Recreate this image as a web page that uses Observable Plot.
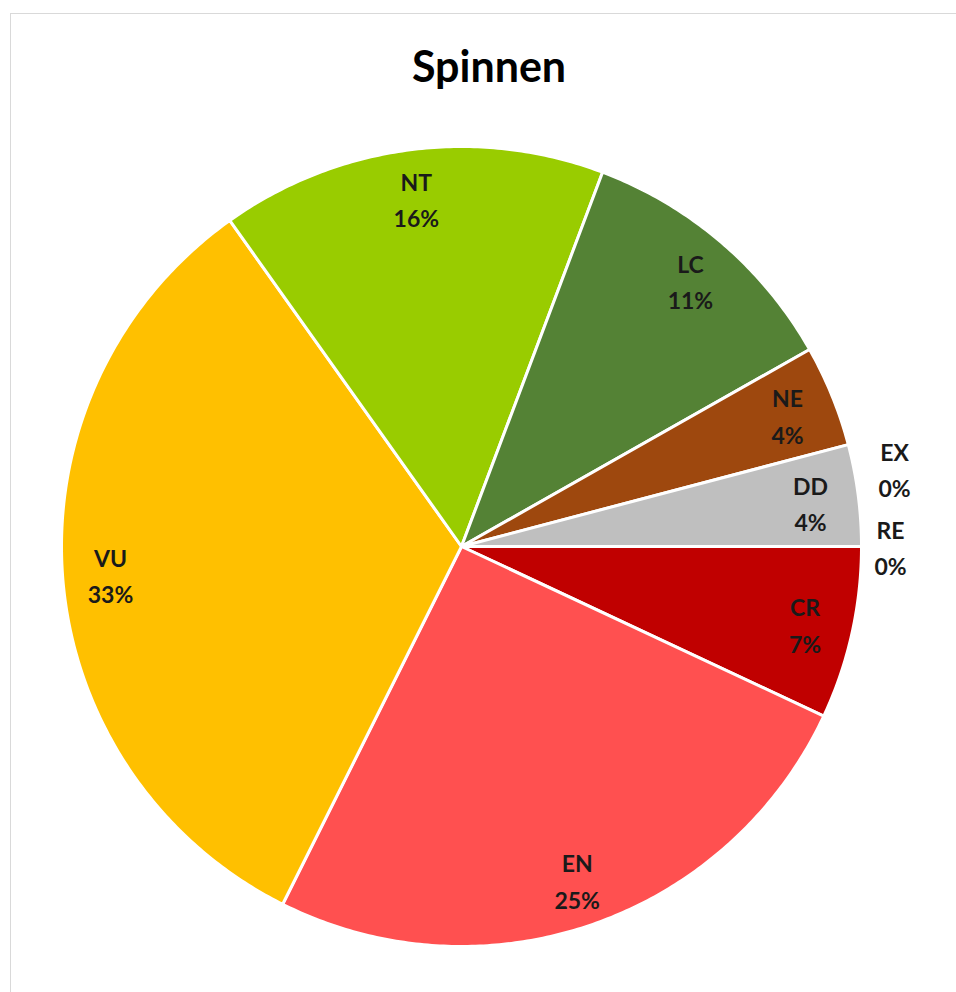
<!DOCTYPE html>
<html>
<head>
<meta charset="utf-8">
<script src="https://cdn.jsdelivr.net/npm/d3@7"></script>
<script src="https://cdn.jsdelivr.net/npm/@observablehq/plot@0.6"></script>
<style>
  html, body { margin: 0; padding: 0; background: #fff; }
  #wrap { position: relative; width: 956px; height: 992px; overflow: hidden; }
  #frame { position: absolute; left: 10px; top: 13px; width: 980px; height: 1000px; border: 1px solid #d9d9d9; box-sizing: border-box; }
  #title { position: absolute; left: 0; top: 45px; width: 978px; text-align: center; font-family: Lato, "Open Sans", sans-serif; font-weight: bold; font-size: 43px; line-height: 42px; color: #000; }
  #chart { position: absolute; left: 0; top: 100px; }
</style>
</head>
<body>
<div id="wrap">
  <div id="frame"></div>
  <div id="title">Spinnen</div>
  <div id="chart"></div>
</div>
<script>
const categories = ["CR", "EN", "VU", "NT", "LC", "NE", "DD", "EX", "RE"];
const counts = [17, 62, 80, 38, 27, 10, 10, 0, 0];
const colors = ["#C00000", "#FF5050", "#FFC000", "#99CC00", "#548235", "#9E480E", "#BFBFBF", "#4472C4", "#ED7D31"];

const total = d3.sum(counts);
// angles clockwise from 3 o'clock
let acc = 0;
const slices = categories.map((cat, i) => {
  const a0 = acc / total * 2 * Math.PI;
  acc += counts[i];
  const a1 = acc / total * 2 * Math.PI;
  return {cat, value: counts[i], pct: Math.round(counts[i] / total * 100), a0, a1};
});

const pt = (r, a) => ({x: r * Math.cos(a), y: -r * Math.sin(a)});

const polyRows = [];
slices.filter(s => s.value > 0).forEach(s => {
  polyRows.push({cat: s.cat, ...pt(0, 0)});
  const n = Math.max(2, Math.ceil((s.a1 - s.a0) / 0.01));
  for (let k = 0; k <= n; k++) {
    polyRows.push({cat: s.cat, ...pt(1, s.a0 + (s.a1 - s.a0) * k / n)});
  }
  polyRows.push({cat: s.cat, ...pt(0, 0)});
});

const labelRows = slices.filter(s => s.value > 0).map(s => ({
  ...pt(0.88, (s.a0 + s.a1) / 2),
  text: s.cat + "\n" + s.pct + "%"
}));
const zeroRows = slices.filter(s => s.value === 0).map(s => ({
  ...pt(1.08, s.a0),
  text: s.cat + "\n" + s.pct + "%"
}));

const cx = 461, cy = 446, R = 400;
const textOpts = {fontFamily: "Lato, 'Open Sans', sans-serif", fontWeight: "bold", fontSize: 23, lineHeight: 1.57, fill: "#1a1a1a"};

const chart = Plot.plot({
  width: 956,
  height: 892,
  margin: 0,
  x: {domain: [-1, 1], range: [cx - R, cx + R], axis: null},
  y: {domain: [-1, 1], range: [cy + R, cy - R], axis: null},
  color: {domain: categories, range: colors},
  style: {background: "transparent", overflow: "visible"},
  marks: [
    Plot.line(polyRows, {x: "x", y: "y", z: "cat", fill: "cat", stroke: "white", strokeWidth: 3, strokeLinejoin: "round", curve: "linear"}),
    Plot.text(labelRows, {x: "x", y: "y", text: "text", ...textOpts}),
    Plot.text(zeroRows.slice(0, 1), {x: "x", y: "y", text: "text", dy: -79, dx: 1, ...textOpts}),
    Plot.text(zeroRows.slice(1), {x: "x", y: "y", text: "text", dy: -1, dx: -3, ...textOpts})
  ]
});
document.getElementById("chart").appendChild(chart);
</script>
</body>
</html>
